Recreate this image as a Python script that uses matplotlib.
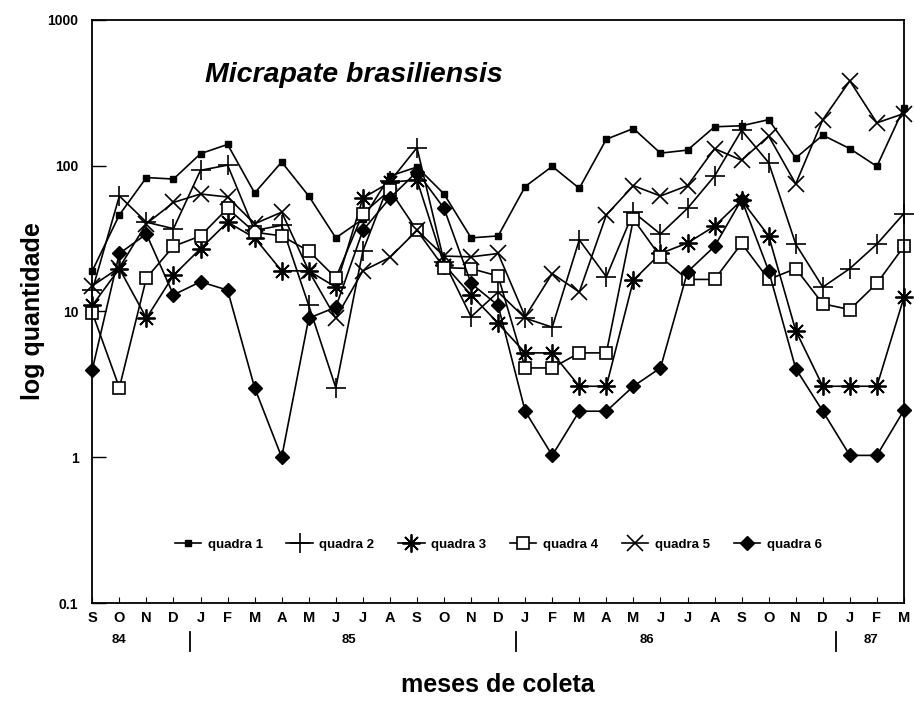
import matplotlib
matplotlib.use("Agg")
import matplotlib.pyplot as plt
from matplotlib.lines import Line2D
from matplotlib.transforms import blended_transform_factory
import numpy as np

plt.rcParams['font.family'] = ['Liberation Sans', 'DejaVu Sans']

months = ['S', 'O', 'N', 'D', 'J', 'F', 'M', 'A', 'M', 'J', 'J', 'A', 'S', 'O', 'N', 'D',
          'J', 'F', 'M', 'A', 'M', 'J', 'J', 'A', 'S', 'O', 'N', 'D', 'J', 'F', 'M']
years = ['84', '85', '86', '87']
year_pos = [1, 9.5, 20.5, 28.8]
year_sep = [3.6, 15.65, 27.5]

q1 = [19, 46, 83, 81, 121, 140, 65, 106, 62, 32, 43, 85, 98, 64, 32, 33,
      72, 99, 70, 152, 180, 122, 128, 185, 188, 207, 113, 162, 131, 99, 250]
q2 = [14, 62, 41, 37, 93, 101, 36, 39, 11, 3, 26, 78, 133, 22, 9.2, 13.6,
      9, 7.8, 31, 17.3, 48, 34, 51, 85, 175, 105, 29, 14.7, 19.7, 29, 47]
q3 = [11, 19.7, 9, 17.7, 27, 41, 32, 19, 19, 14.7, 60, 77, 80, 21, 13, 8.3,
      5.2, 5.2, 3.07, 3.07, 16.4, 25, 29.5, 38.5, 58, 33, 7.4, 3.07, 3.07, 3.07, 12.5]
q4 = [9.8, 3, 17, 28, 33, 51, 35, 33, 26, 17, 47, 68, 36, 20, 19.7, 17.5,
      4.1, 4.1, 5.2, 5.2, 43, 23.7, 16.6, 16.6, 29.3, 16.6, 19.7, 11.3, 10.3, 15.6, 28]
q5 = [15, 20, 40, 56, 64, 61, 40, 48, 19, 9, 19, 23.5, 36, 24, 23.7, 25,
      9.2, 18.2, 13.6, 46, 73, 62, 73, 131, 109, 160, 75, 207, 382, 197, 228]
q6 = [4, 25, 34, 13, 16, 14, 3, 1, 9, 10.7, 36, 60, 91, 51, 15.6, 11,
      2.07, 1.03, 2.07, 2.07, 3.07, 4.1, 18.7, 28, 58.6, 19, 4.06, 2.07, 1.03, 1.03, 2.1]

labels = ['quadra 1', 'quadra 2', 'quadra 3', 'quadra 4', 'quadra 5', 'quadra 6']
series = [q1, q2, q3, q4, q5, q6]
styles = [
    dict(marker='s', markersize=4, markerfacecolor='black'),
    dict(marker='+', markersize=14, markeredgewidth=1.2),
    dict(marker=(8, 2, 0), markersize=13, markeredgewidth=1.3),
    dict(marker='s', markersize=8, markerfacecolor='white', markeredgewidth=1.2),
    dict(marker='x', markersize=11, markeredgewidth=1.2),
    dict(marker='D', markersize=7.5, markerfacecolor='black'),
]

fig = plt.figure(figsize=(9.14, 7.03), dpi=100)
ax = fig.add_axes([0.101, 0.1422, 0.888, 0.8294])

x = np.arange(len(months))
for vals, lab, st in zip(series, labels, styles):
    ax.plot(x, vals, color='black', linewidth=1.2, markeredgecolor='black',
            label=lab, clip_on=False, **st)

ax.set_yscale('log')
ax.set_ylim(0.1, 1000)
ax.set_xlim(0, len(months) - 1)
ax.set_yticks([0.1, 1, 10, 100, 1000])
ax.set_yticklabels(['0.1', '1', '10', '100', '1000'], fontweight='bold', fontsize=10)
ax.yaxis.set_minor_locator(matplotlib.ticker.NullLocator())
ax.set_xticks(x)
ax.set_xticklabels(months, fontweight='bold', fontsize=10.5)
ax.tick_params(axis='y', direction='in', length=10, width=1, pad=10)
ax.tick_params(axis='x', direction='in', length=4, width=0.8, pad=6)
for s in ax.spines.values():
    s.set_linewidth(1.3)

ax.set_ylabel('log quantidade', fontweight='bold', fontsize=18, labelpad=2)
ax.set_xlabel('meses de coleta', fontweight='bold', fontsize=18, labelpad=34)

trans = blended_transform_factory(ax.transData, ax.transAxes)
for yp, yl in zip(year_pos, years):
    ax.text(yp, -0.064, yl, transform=trans, ha='center', va='center',
            fontweight='bold', fontsize=9.5)
for xs in year_sep:
    ax.add_line(Line2D([xs, xs], [-0.05, -0.082], transform=trans, color='black',
                       linewidth=1.3, clip_on=False))

ax.text(0.139, 0.906, 'Micrapate brasiliensis', transform=ax.transAxes,
        fontsize=20.5, fontweight='bold', fontstyle='italic', ha='left', va='center')

leg = ax.legend(loc='center', bbox_to_anchor=(0.50, 0.1), ncol=6, frameon=False,
                prop=dict(weight='bold', size=9.5), handlelength=2.0,
                columnspacing=1.8, handletextpad=0.5)

fig.savefig('out.png', dpi=100)
